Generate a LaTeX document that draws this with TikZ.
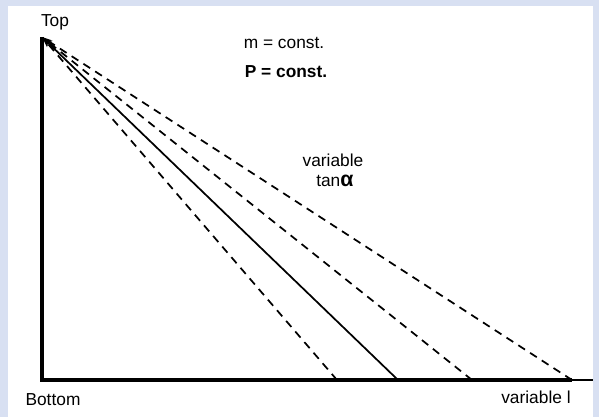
\documentclass[tikz,border=0pt]{standalone}
\usepackage{fontspec}
\setmainfont{Liberation Sans}
\usetikzlibrary{arrows.meta, positioning}
\definecolor{cBG}{HTML}{D8E0F2}

\begin{document}
\begin{tikzpicture}[x=0.75pt, y=-0.75pt,
  lbl/.style={font=\fontsize{13}{15}\selectfont, inner sep=0pt},
  axis/.style={line width=3pt},
  ray/.style={-{Stealth[length=8pt,width=4pt]}, line width=1.3pt},
  dray/.style={ray, dash pattern=on 6pt off 4.5pt}
]
\fill[cBG] (0,0) rectangle (599,417);
\fill[white] (8,6) rectangle (593,417);

\coordinate (apex) at (42,37);
\coordinate (orig) at (42,380);
\coordinate (b1) at (337,380);
\coordinate (b2) at (398,380);
\coordinate (b3) at (472,380);
\coordinate (b4) at (572,380);
\coordinate (bend) at (593,380);

\draw[axis] (apex) -- (orig) -- (b4);
\draw[line width=1.2pt] (b4) -- (bend);

\draw[dray] (b1) -- (apex);
\draw[ray] (b2) -- (apex);
\draw[dray] (b3) -- (apex);
\draw[dray] (b4) -- (apex);

\node[lbl] (top) at (55,22) {Top};
\node[lbl] (bottom) at (53,400) {Bottom};
\node[lbl] (varl) at (536,397) {variable l};
\node[lbl] (mconst) at (284,43) {m = const.};
\node[lbl, font=\fontsize{13}{15}\selectfont\bfseries] (pconst) at (286,72) {P = const.};
\node[lbl] (var) at (333,160) {variable};
\node[lbl, anchor=west] (tan) at (316,181) {tan{\fontsize{16}{16}\selectfont\bfseries α}};
\end{tikzpicture}
\end{document}
